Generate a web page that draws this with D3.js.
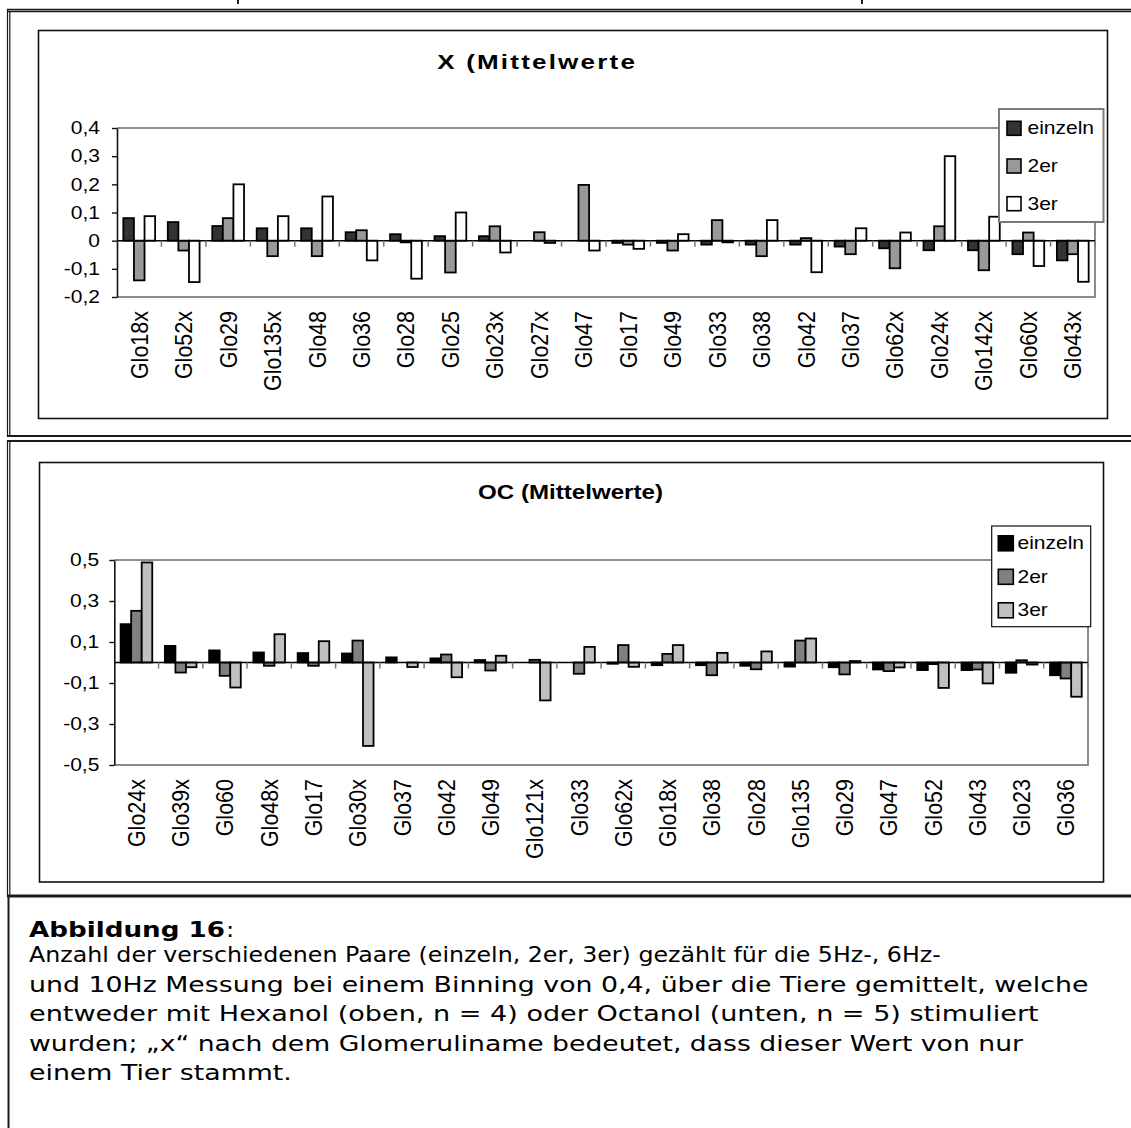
<!DOCTYPE html>
<html><head><meta charset="utf-8">
<script src="https://cdn.jsdelivr.net/npm/d3@7"></script>
<style>body{margin:0;background:#fff}svg{display:block}</style>
</head><body><svg id="c" width="1131" height="1128"></svg>
<script>
// ---------------- DATA ----------------
const seriesNames = ["einzeln", "2er", "3er"];

const topTitle = "X (Mittelwerte";
const topCategories = ["Glo18x","Glo52x","Glo29","Glo135x","Glo48","Glo36","Glo28","Glo25","Glo23x","Glo27x","Glo47","Glo17","Glo49","Glo33","Glo38","Glo42","Glo37","Glo62x","Glo24x","Glo142x","Glo60x","Glo43x"];
const topEinzeln = [0.08,0.066,0.052,0.044,0.044,0.03,0.023,0.016,0.016,0,0,-0.008,-0.008,-0.014,-0.014,-0.014,-0.021,-0.027,-0.034,-0.034,-0.048,-0.07];
const top2er = [-0.141,-0.035,0.08,-0.055,-0.055,0.037,-0.006,-0.113,0.051,0.03,0.198,-0.014,-0.035,0.073,-0.055,0.009,-0.048,-0.098,0.051,-0.105,0.029,-0.048];
const top3er = [0.087,-0.147,0.2,0.087,0.157,-0.07,-0.135,0.1,-0.042,-0.008,-0.035,-0.029,0.023,-0.006,0.073,-0.112,0.044,0.029,0.3,0.085,-0.09,-0.146];
const topTicks = [0.4,0.3,0.2,0.1,0,-0.1,-0.2];
const topTickLabels = ["0,4","0,3","0,2","0,1","0","-0,1","-0,2"];

const bottomTitle = "OC (Mittelwerte)";
const bottomCategories = ["Glo24x","Glo39x","Glo60","Glo48x","Glo17","Glo30x","Glo37","Glo42","Glo49","Glo121x","Glo33","Glo62x","Glo18x","Glo38","Glo28","Glo135","Glo29","Glo47","Glo52","Glo43","Glo23","Glo36"];
const bottomEinzeln = [0.187,0.081,0.059,0.049,0.046,0.044,0.025,0.02,0.012,0,0,-0.006,-0.013,-0.013,-0.016,-0.02,-0.023,-0.034,-0.037,-0.037,-0.05,-0.062];
const bottom2er = [0.252,-0.049,-0.065,-0.016,-0.016,0.107,0,0.039,-0.039,0.013,-0.055,0.085,0.042,-0.062,-0.033,0.107,-0.058,-0.042,-0.008,-0.034,0.011,-0.078];
const bottom3er = [0.488,-0.023,-0.122,0.138,0.104,-0.407,-0.022,-0.072,0.033,-0.185,0.076,-0.021,0.085,0.047,0.054,0.117,0.007,-0.024,-0.124,-0.102,-0.01,-0.167];
const bottomTicks = [0.5,0.3,0.1,-0.1,-0.3,-0.5];
const bottomTickLabels = ["0,5","0,3","0,1","-0,1","-0,3","-0,5"];

const captionHead = "Abbildung 16";
const captionLines = [
  "Anzahl der verschiedenen Paare (einzeln, 2er, 3er) gezählt für die 5Hz-, 6Hz-",
  "und 10Hz Messung bei einem Binning von 0,4, über die Tiere gemittelt, welche",
  "entweder mit Hexanol (oben, n = 4) oder Octanol (unten, n = 5) stimuliert",
  "wurden; „x“ nach dem Glomeruliname bedeutet, dass dieser Wert von nur",
  "einem Tier stammt."
];

// ---------------- DRAWING ----------------
const svg = d3.select("#c");
const chartFont = "'Liberation Sans', Arial, sans-serif";
const capFont = "'DejaVu Sans', Verdana, sans-serif";

// text helper; o.fit = target on-screen width (glyphs stretched horizontally), o.spread = target width via letter spacing
function txt(parent, x, y, s, o) {
  o = Object.assign({size: 17, weight: "normal", anchor: "start", sx: 1.2, family: chartFont, rot: 0, dy: null, fit: null, spread: null}, o || {});
  const t = parent.append("text")
    .attr("font-family", o.family).attr("font-size", o.size).attr("font-weight", o.weight)
    .attr("text-anchor", o.anchor).attr("fill", "#000").text(s);
  if (o.dy) t.attr("dy", o.dy);
  let sx = o.sx;
  if (o.fit) sx = o.fit / t.node().getComputedTextLength();
  if (o.spread) {
    const w = t.node().getComputedTextLength();
    const ls = (o.spread / sx - w) / s.length;
    t.attr("letter-spacing", ls);
    if (o.anchor === "middle") t.attr("x", ls / 2);
  }
  let tr = `translate(${x},${y}) scale(${sx},1)`;
  if (o.rot) tr += ` rotate(${o.rot})`;
  t.attr("transform", tr);
  return t;
}

// table frame
const frame = svg.append("g").attr("stroke", "#1a1a1a").attr("fill", "none");
frame.append("path").attr("d", "M7,9.5H1131M7,11.5H1131").attr("stroke-width", 1.3);
frame.append("path").attr("d", "M7.5,9V437M9.8,11V435").attr("stroke-width", 1.2);
frame.append("path").attr("d", "M7,436H1131").attr("stroke-width", 2);
frame.append("path").attr("d", "M7,441H1131").attr("stroke-width", 2);
frame.append("path").attr("d", "M7.5,440V897M9.8,442V895").attr("stroke-width", 1.2);
frame.append("path").attr("d", "M7,896H1131").attr("stroke-width", 3);
frame.append("path").attr("d", "M8.5,896V1128").attr("stroke-width", 2);
// cut-off glyph fragments from the line above
svg.append("path").attr("d", "M238,0V4M862,0V4").attr("stroke", "#222").attr("stroke-width", 2);

function drawChart(o) {
  const g = svg.append("g");
  g.append("rect").attr("x", o.box[0]).attr("y", o.box[1]).attr("width", o.box[2]).attr("height", o.box[3])
    .attr("fill", "#fff").attr("stroke", "#111").attr("stroke-width", 1.6);

  const x = d3.scaleBand().domain(o.cats).range([o.left, o.right]).paddingInner(0.285).paddingOuter(0.1425);
  const xs = d3.scaleBand().domain(seriesNames).range([0, x.bandwidth()]);
  const y = d3.scaleLinear().domain(o.domain).range([o.bottom, o.top]);
  const color = d3.scaleOrdinal().domain(seriesNames).range(o.colors);

  // plot area border (top, right, bottom)
  g.append("path").attr("d", `M${o.left},${y(o.domain[1])}H${o.right}V${y(o.domain[0])}H${o.left}`)
    .attr("fill", "none").attr("stroke", "#8c8c8c").attr("stroke-width", 2);

  // bars
  const rows = o.cats.map((c, i) => ({cat: c, vals: seriesNames.map((s, k) => ({s, v: o.series[k][i]}))}));
  g.selectAll("g.grp").data(rows).join("g").attr("class", "grp")
    .attr("transform", d => `translate(${x(d.cat)},0)`)
    .selectAll("rect").data(d => d.vals).join("rect")
    .attr("x", d => xs(d.s)).attr("width", xs.bandwidth())
    .attr("y", d => Math.min(y(d.v), y(0))).attr("height", d => Math.abs(y(d.v) - y(0)))
    .attr("fill", d => color(d.s)).attr("stroke", "#000").attr("stroke-width", 1.8);

  // zero (category) axis
  g.append("line").attr("x1", o.left).attr("x2", o.right).attr("y1", y(0)).attr("y2", y(0))
    .attr("stroke", "#000").attr("stroke-width", 1.5);
  const half = x.step() * x.paddingInner() / 2;
  g.selectAll("line.ct").data(o.cats).join("line").attr("class", "ct")
    .attr("x1", d => x(d) + x.bandwidth() + half).attr("x2", d => x(d) + x.bandwidth() + half)
    .attr("y1", y(0)).attr("y2", y(0) + 6).attr("stroke", "#777").attr("stroke-width", 1.5);

  // value axis
  const ax = g.append("g").attr("transform", `translate(${o.left},0)`)
    .call(d3.axisLeft(y).tickValues(o.ticks).tickSize(5).tickSizeOuter(0).tickFormat(""));
  ax.select(".domain").attr("stroke", "#111").attr("stroke-width", 1.6);
  ax.selectAll(".tick line").attr("stroke", "#111").attr("stroke-width", 1.4);
  o.ticks.forEach((t, i) => txt(g, o.left - o.tickGap, y(t), o.tickLabels[i], {size: 17.5, anchor: "end", dy: "0.36em"}));

  // category labels
  o.cats.forEach(c => txt(g, x(c) + x.bandwidth() / 2, o.labelTop, c, {size: 21.5, sx: 1.1, anchor: "end", rot: -90, dy: "0.36em"}));

  // title
  txt(g, o.titleX, o.titleY, o.title, Object.assign({size: 20, weight: "bold", anchor: "middle", dy: "0.35em"}, o.titleOpt));

  // legend
  const L = o.legend;
  const lg = g.append("g");
  lg.append("rect").attr("x", L.x).attr("y", L.y).attr("width", L.w).attr("height", L.h)
    .attr("fill", "#fff").attr("stroke", L.stroke).attr("stroke-width", L.sw);
  seriesNames.forEach((s, i) => {
    const cy = L.y0 + i * L.dy;
    lg.append("rect").attr("x", L.sx).attr("y", cy - L.ss / 2).attr("width", L.ss).attr("height", L.ss)
      .attr("fill", color(s)).attr("stroke", "#000").attr("stroke-width", 1.6);
    txt(lg, L.tx, cy, s, {size: 17.5, dy: "0.35em"});
  });
}

drawChart({
  cats: topCategories, series: [topEinzeln, top2er, top3er], colors: ["#333333", "#999999", "#ffffff"],
  box: [38.5, 30.5, 1069, 388], left: 117, right: 1095, top: 128, bottom: 297,
  domain: [-0.2, 0.4], ticks: topTicks, tickLabels: topTickLabels, tickGap: 17, labelTop: 311,
  title: topTitle, titleX: 536, titleY: 62, titleOpt: {sx: 1.3, spread: 200},
  legend: {x: 999, y: 109, w: 104.5, h: 113, stroke: "#7a7a7a", sw: 2, y0: 128.3, dy: 37.7, sx: 1007, ss: 14, tx: 1027.5}
});

drawChart({
  cats: bottomCategories, series: [bottomEinzeln, bottom2er, bottom3er], colors: ["#000000", "#808080", "#c0c0c0"],
  box: [39.5, 462.5, 1064, 419.5], left: 114.3, right: 1088, top: 560, bottom: 765,
  domain: [-0.5, 0.5], ticks: bottomTicks, tickLabels: bottomTickLabels, tickGap: 15, labelTop: 779,
  title: bottomTitle, titleX: 570.5, titleY: 491.7, titleOpt: {fit: 185},
  legend: {x: 991.7, y: 526, w: 99, h: 100.7, stroke: "#111", sw: 1.2, y0: 543.3, dy: 33.5, sx: 998.3, ss: 15, tx: 1017.5}
});

// caption
const cap = svg.append("g");
txt(cap, 29, 937, captionHead, {size: 20.5, weight: "bold", family: capFont, fit: 196});
txt(cap, 226, 937, ":", {size: 20.5, family: capFont});
const capBase = [962, 991.5, 1021, 1050.5, 1080];
const capLens = [912, 1060, 1010, 995, 263];
captionLines.forEach((l, i) => txt(cap, 29, capBase[i], l, {size: 20.5, family: capFont, fit: capLens[i]}));
</script></body></html>
